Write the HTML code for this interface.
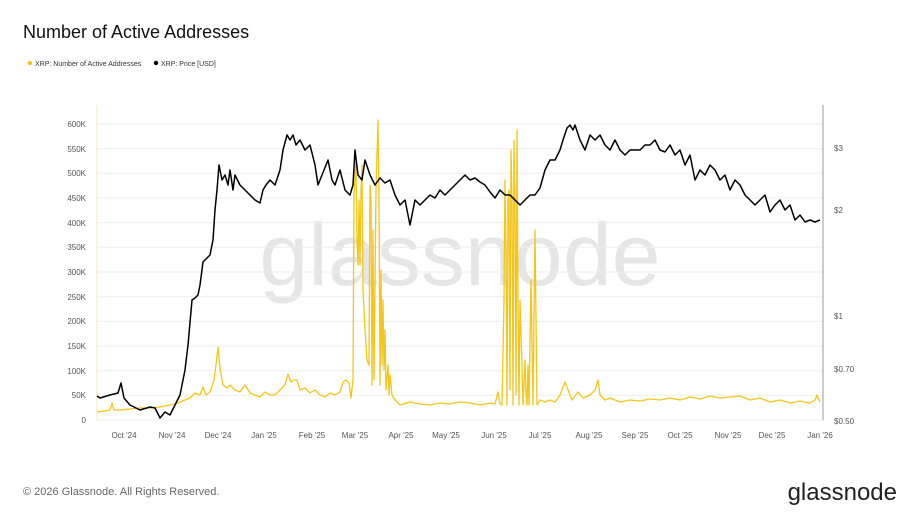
<!DOCTYPE html>
<html><head><meta charset="utf-8"><style>
body{margin:0;background:#fff;font-family:"Liberation Sans",sans-serif;}
</style></head><body>
<svg width="920" height="518" xmlns="http://www.w3.org/2000/svg" font-family="Liberation Sans, sans-serif">
<rect width="920" height="518" fill="#fff"/>
<text x="23" y="38" font-size="18" fill="#111">Number of Active Addresses</text>
<circle cx="30" cy="63" r="2.2" fill="#f5c518"/>
<text x="35" y="66" font-size="7" fill="#333">XRP: Number of Active Addresses</text>
<circle cx="156" cy="63" r="2.2" fill="#000"/>
<text x="161" y="66" font-size="7" fill="#333">XRP: Price [USD]</text>
<text x="460" y="285" font-size="88" fill="#e6e6e6" text-anchor="middle">glassnode</text>
<g stroke="#eeeeee" stroke-width="1">
<line x1="97" x2="823" y1="124" y2="124"/><line x1="97" x2="823" y1="148.7" y2="148.7"/>
<line x1="97" x2="823" y1="173.3" y2="173.3"/><line x1="97" x2="823" y1="198" y2="198"/>
<line x1="97" x2="823" y1="222.7" y2="222.7"/><line x1="97" x2="823" y1="247.3" y2="247.3"/>
<line x1="97" x2="823" y1="272" y2="272"/><line x1="97" x2="823" y1="296.7" y2="296.7"/>
<line x1="97" x2="823" y1="321.3" y2="321.3"/><line x1="97" x2="823" y1="346" y2="346"/>
<line x1="97" x2="823" y1="370.7" y2="370.7"/><line x1="97" x2="823" y1="395.3" y2="395.3"/>
<line x1="97" x2="823" y1="420" y2="420"/>
</g>
<line x1="97" y1="105" x2="97" y2="420" stroke="#f8e9b0"/>
<line x1="823" y1="105" x2="823" y2="420" stroke="#999"/>
<g font-size="8" fill="#555" text-anchor="end">
<text x="86" y="127">600K</text><text x="86" y="152">550K</text><text x="86" y="176">500K</text>
<text x="86" y="201">450K</text><text x="86" y="226">400K</text><text x="86" y="250">350K</text>
<text x="86" y="275">300K</text><text x="86" y="300">250K</text><text x="86" y="324">200K</text>
<text x="86" y="349">150K</text><text x="86" y="374">100K</text><text x="86" y="398">50K</text>
<text x="86" y="423">0</text>
</g>
<g font-size="8" fill="#555">
<text x="834" y="151">$3</text><text x="834" y="213">$2</text><text x="834" y="319">$1</text>
<text x="834" y="372">$0.70</text><text x="834" y="424">$0.50</text>
</g>
<g font-size="8" fill="#555" text-anchor="middle">
<text x="124" y="438">Oct '24</text><text x="172" y="438">Nov '24</text><text x="218" y="438">Dec '24</text>
<text x="264" y="438">Jan '25</text><text x="312" y="438">Feb '25</text><text x="355" y="438">Mar '25</text>
<text x="401" y="438">Apr '25</text><text x="446" y="438">May '25</text><text x="494" y="438">Jun '25</text>
<text x="540" y="438">Jul '25</text><text x="589" y="438">Aug '25</text><text x="635" y="438">Sep '25</text>
<text x="680" y="438">Oct '25</text><text x="728" y="438">Nov '25</text><text x="772" y="438">Dec '25</text>
<text x="820" y="438">Jan '26</text>
</g>
<polyline fill="none" stroke="#f5c518" stroke-width="1.3" stroke-linejoin="round" points="97,412 105,411 110,410 112,403 114,410 120,410 130,409 140,408 150,408 160,407 170,405 175,404 180,402 185,400 190,398 195,393 200,395 203,387 206,395 210,392 214,380 216,365 218,347 220,368 223,385 227,388 230,385 235,390 240,392 245,385 250,393 255,395 260,397 265,392 270,395 275,395 280,390 285,385 288,374 291,382 294,380 297,380 300,390 305,388 310,393 315,390 320,395 325,397 330,393 335,395 340,392 343,382 346,380 349,383 351,398 353,380 354,195 356,160 357,240 358,265 359,200 360,265 361,190 362,165 363,290 365,330 367,360 369,365 370,185 371,200 372,385 373,230 374,380 376,190 378,120 379,200 380,385 381,270 382,365 383,300 384,370 385,330 386,390 388,365 389,395 390,375 392,395 395,400 400,405 410,402 420,404 430,405 440,403 450,404 460,402 470,403 480,405 490,403 495,404 498,392 500,404 502,405 504,300 505,180 506,250 507,405 508,200 509,190 510,390 511,150 512,200 513,405 514,140 515,200 516,395 517,130 518,300 519,405 520,300 522,365 523,405 525,360 526,395 527,405 528,365 529,405 531,280 533,405 535,230 537,405 540,400 545,402 550,400 555,402 560,395 565,382 568,390 572,400 578,392 583,398 590,395 595,390 598,380 600,395 605,400 610,398 620,402 630,400 640,401 650,399 660,400 670,398 680,400 690,397 700,399 710,396 720,398 730,397 740,396 750,400 760,398 770,402 780,400 790,403 800,401 810,403 815,400 817,395 820,402"/>
<polyline fill="none" stroke="#000" stroke-width="1.5" stroke-linejoin="round" points="97,396 100,398 110,395 118,393 121,383 124,398 130,405 140,410 150,407 155,408 160,418 165,412 170,415 175,405 180,395 185,370 188,345 192,300 195,298 198,295 200,285 203,262 207,258 210,255 213,240 215,210 217,190 219,165 222,180 225,175 228,185 230,170 233,190 235,175 240,185 245,190 250,195 255,200 260,203 263,190 266,185 270,180 275,185 280,170 283,150 287,135 290,140 293,135 296,145 300,140 305,150 310,145 315,165 318,185 322,175 328,160 332,180 335,185 340,170 345,190 350,195 353,185 355,150 358,175 362,180 365,160 370,175 375,185 380,178 385,183 390,180 395,195 400,205 405,200 410,225 415,200 420,205 425,200 430,195 435,198 440,190 445,195 450,190 455,185 460,180 465,175 470,180 475,178 480,182 485,185 490,192 495,198 500,190 505,195 510,195 515,200 520,205 525,200 530,195 535,195 540,188 545,170 550,160 555,160 560,150 563,140 567,128 570,125 573,130 575,125 580,140 585,150 590,135 595,140 600,135 605,145 610,150 615,140 620,150 625,155 630,150 640,150 645,145 650,145 655,140 660,150 665,152 670,145 675,155 680,150 685,165 690,155 695,180 700,170 705,175 710,165 715,170 720,180 725,175 730,190 735,180 740,185 745,195 750,200 755,205 760,200 765,195 770,212 775,205 780,200 785,210 790,205 795,220 800,215 805,222 810,220 815,222 820,220"/>
<text x="23" y="495" font-size="11" fill="#666">© 2026 Glassnode. All Rights Reserved.</text>
<text x="897" y="500" font-size="24" fill="#222" text-anchor="end">glassnode</text>
</svg>
</body></html>
